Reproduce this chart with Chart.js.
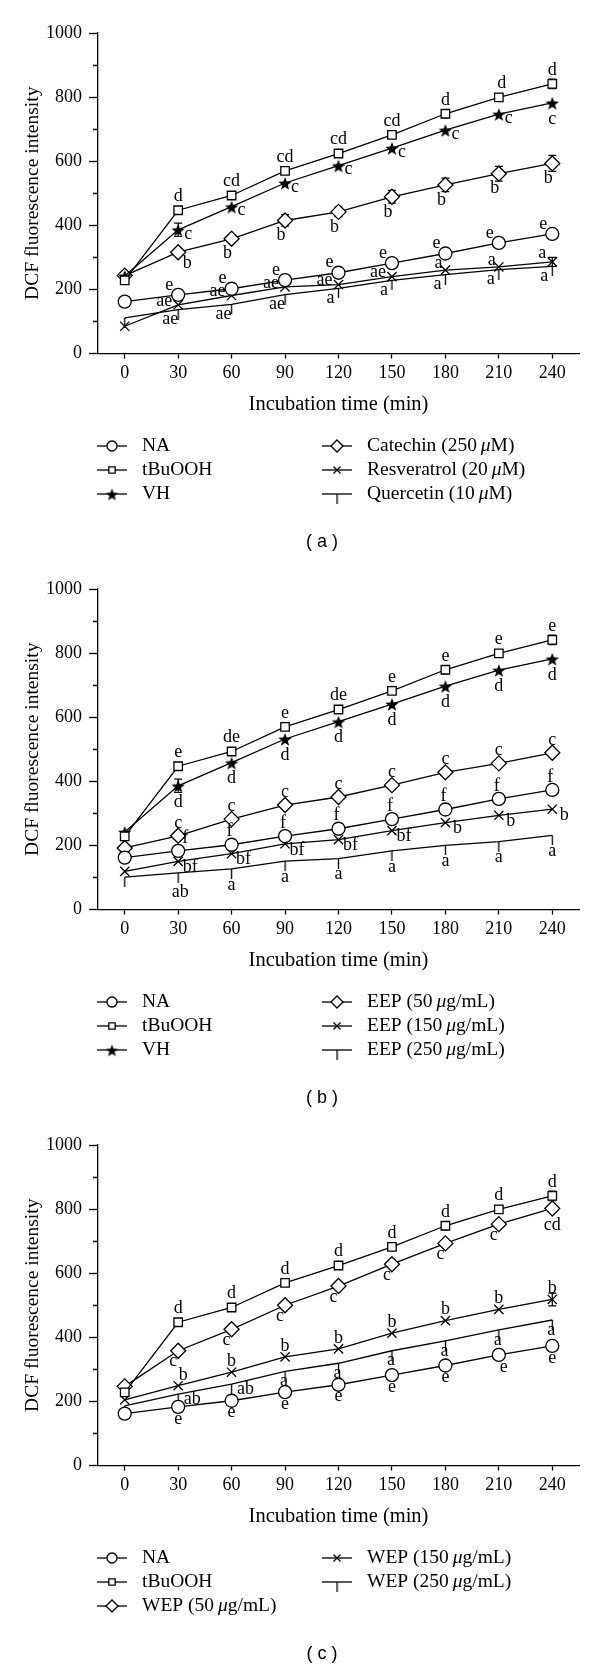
<!DOCTYPE html>
<html lang="en">
<head>
<meta charset="UTF-8">
<title>DCF fluorescence intensity</title>
<script src="https://cdn.jsdelivr.net/npm/chart.js@4.4.0/dist/chart.umd.min.js"></script>
<style>
  html, body { margin: 0; padding: 0; background: #fff; }
  canvas { display: block; }
</style>
</head>
<body>
<canvas id="chartA" width="600" height="556"></canvas>
<canvas id="chartB" width="600" height="556"></canvas>
<canvas id="chartC" width="600" height="555"></canvas>
<script>
// x: incubation time (min), y ticks
const times = [0, 30, 60, 90, 120, 150, 180, 210, 240];
const yTicks = [0, 200, 400, 600, 800, 1000];
const yMinorTicks = [100, 300, 500, 700, 900];

// controls, same in every panel
const naVals  = [162, 183, 202, 229, 252, 282, 312, 345, 373];
const tbuVals = [228, 447, 493, 570, 624, 682, 748, 799, 841];
const tbuErr  = [0, 0, 0, 0, 0, 0, 12, 12, 15];
const vhVals  = [242, 386, 458, 532, 586, 641, 697, 747, 782];
const vhErr   = [0, 21, 0, 0, 0, 0, 0, 0, 0];

// panel (a)
const catechinVals    = [243, 316, 358, 415, 442, 489, 526, 561, 593];
const catechinErr     = [0, 0, 0, 18, 15, 20, 21, 23, 25];
const resveratrolVals = [85, 152, 181, 208, 215, 240, 260, 270, 286];
const resveratrolErr  = [0, 0, 0, 0, 0, 0, 0, 0, 14];
const quercetinVals   = [111, 137, 153, 184, 203, 228, 246, 262, 272];
const naLettersA          = ['', 'e', 'e', 'e', 'e', 'e', 'e', 'e', 'e'];
const tbuLettersA         = ['', 'd', 'cd', 'cd', 'cd', 'cd', 'd', 'd', 'd'];
const vhLettersA          = ['', 'c', 'c', 'c', 'c', 'c', 'c', 'c', 'c'];
const catechinLetters     = ['', 'b', 'b', 'b', 'b', 'b', 'b', 'b', 'b'];
const resveratrolLetters  = ['', 'ae', 'ae', 'ae', 'ae', 'ae', 'a', 'a', 'a'];
const quercetinLetters    = ['', 'ae', 'ae', 'ae', 'a', 'a', 'a', 'a', 'a'];

// panel (b)
const eep50Vals  = [192, 230, 282, 326, 351, 388, 428, 456, 489];
const eep150Vals = [119, 150, 174, 205, 218, 246, 271, 294, 313];
const eep250Vals = [101, 114, 127, 151, 159, 183, 200, 212, 231];
const naLettersB     = ['', 'f', 'f', 'f', 'f', 'f', 'f', 'f', 'f'];
const tbuLettersB    = ['', 'e', 'de', 'e', 'de', 'e', 'e', 'e', 'e'];
const vhLettersB     = ['', 'd', 'd', 'd', 'd', 'd', 'd', 'd', 'd'];
const eep50Letters   = ['', 'c', 'c', 'c', 'c', 'c', 'c', 'c', 'c'];
const eep150Letters  = ['', 'bf', 'bf', 'bf', 'bf', 'bf', 'b', 'b', 'b'];
const eep250Letters  = ['', 'ab', 'a', 'a', 'a', 'a', 'a', 'a', 'a'];

// panel (c)
const wep50Vals  = [247, 358, 425, 500, 560, 628, 693, 753, 802];
const wep150Vals = [205, 249, 291, 339, 364, 413, 452, 487, 518];
const wep150Err  = [0, 0, 0, 0, 0, 0, 0, 0, 20];
const wep250Vals = [186, 223, 254, 294, 319, 358, 389, 423, 454];
const naLettersC     = ['', 'e', 'e', 'e', 'e', 'e', 'e', 'e', 'e'];
const tbuLettersC    = ['', 'd', 'd', 'd', 'd', 'd', 'd', 'd', 'd'];
const wep50Letters   = ['', 'c', 'c', 'c', 'c', 'c', 'c', 'c', 'cd'];
const wep150Letters  = ['', 'b', 'b', 'b', 'b', 'b', 'b', 'b', 'b'];
const wep250Letters  = ['', 'ab', 'ab', 'a', 'a', 'a', 'a', 'a', 'a'];

Chart.defaults.color = '#000';
Chart.defaults.font.family = '"Liberation Serif", "Times New Roman", serif';

// marker images: filled star and the downward tick
function makeStar(r) {
  const c = document.createElement('canvas');
  const s = Math.ceil(r * 2 + 2);
  c.width = c.height = s;
  const g = c.getContext('2d');
  g.beginPath();
  for (let i = 0; i < 10; i++) {
    const rad = i % 2 ? r * 0.42 : r;
    const a = -Math.PI / 2 + i * Math.PI / 5;
    g.lineTo(s / 2 + rad * Math.cos(a), s / 2 + 1 + rad * Math.sin(a));
  }
  g.closePath();
  g.fillStyle = '#000';
  g.fill();
  return c;
}
function makeDrop(len) {
  const c = document.createElement('canvas');
  c.width = 3; c.height = len * 2;
  const g = c.getContext('2d');
  g.strokeStyle = '#000'; g.lineWidth = 1.3;
  g.beginPath(); g.moveTo(1.5, len); g.lineTo(1.5, len * 2); g.stroke();
  return c;
}
const markers = {
  circle:  {style: 'circle', r: 6.5, lr: 5},
  square:  {style: 'rect', r: 6, lr: 4.5},
  star:    {style: makeStar(7), r: 7, lr: 7, legendStyle: makeStar(6.5)},
  diamond: {style: 'rectRot', r: 7.5, lr: 6},
  cross:   {style: 'crossRot', r: 6.5, lr: 5},
  drop:    {style: makeDrop(10), r: 10, lr: 10}
};

const errorBars = {
  id: 'errorBars',
  beforeDatasetsDraw(chart) {
    const {ctx, scales: {x, y}} = chart;
    ctx.save();
    ctx.strokeStyle = '#000';
    ctx.lineWidth = 1.2;
    chart.data.datasets.forEach(ds => {
      if (!ds.err) return;
      ds.data.forEach((p, i) => {
        const e = ds.err[i];
        if (!e) return;
        const px = x.getPixelForValue(p.x);
        const top = y.getPixelForValue(p.y + e), bot = y.getPixelForValue(p.y - e);
        ctx.beginPath();
        ctx.moveTo(px, top); ctx.lineTo(px, bot);
        ctx.moveTo(px - 4, top); ctx.lineTo(px + 4, top);
        ctx.moveTo(px - 4, bot); ctx.lineTo(px + 4, bot);
        ctx.stroke();
      });
    });
    ctx.restore();
  }
};

const sigLetters = {
  id: 'sigLetters',
  afterDatasetsDraw(chart) {
    const {ctx} = chart;
    ctx.save();
    ctx.font = '18px "Liberation Serif"';
    ctx.fillStyle = '#000';
    ctx.textAlign = 'center';
    ctx.textBaseline = 'middle';
    chart.data.datasets.forEach((ds, di) => {
      if (!ds.letters) return;
      chart.getDatasetMeta(di).data.forEach((pt, i) => {
        const txt = ds.letters[i];
        if (!txt) return;
        const off = (ds.offAt && ds.offAt[i]) || ds.off;
        ctx.fillText(txt, pt.x + off[0], pt.y + off[1]);
      });
    });
    ctx.restore();
  }
};

const legendFont = '19.5px "Liberation Serif"';
function drawLabel(ctx, text, x, y) {
  let cx = x;
  text.split('μ').forEach((part, k) => {
    if (k > 0) {
      ctx.font = 'italic ' + legendFont;
      ctx.fillText('μ', cx, y);
      cx += ctx.measureText('μ').width;
    }
    ctx.font = legendFont;
    ctx.fillText(part, cx, y);
    cx += ctx.measureText(part).width;
  });
}

// two-column legend under the x title, then the panel letter
const boxLegend = {
  id: 'boxLegend',
  afterDraw(chart, args, opts) {
    const {ctx} = chart;
    ctx.save();
    ctx.textBaseline = 'middle';
    chart.data.datasets.forEach((ds, i) => {
      const col = i < 3 ? 0 : 1;
      const row = i < 3 ? i : i - 3;
      const x0 = col ? 322 : 97;
      const y0 = 446 + row * 24;
      ctx.strokeStyle = '#000';
      ctx.lineWidth = 1.3;
      ctx.beginPath(); ctx.moveTo(x0, y0); ctx.lineTo(x0 + 30, y0); ctx.stroke();
      ctx.fillStyle = '#fff';
      Chart.helpers.drawPoint(ctx, {
        pointStyle: ds.marker.legendStyle || ds.marker.style,
        radius: ds.marker.lr, rotation: 0, borderWidth: 1.3
      }, x0 + 15, y0);
      ctx.fillStyle = '#000';
      drawLabel(ctx, ds.label, x0 + 45, y0);
    });
    ctx.font = '18px "Liberation Sans", Arial, sans-serif';
    ctx.textAlign = 'center';
    ctx.fillText('( ' + opts.letter + ' )', 322, 542);
    ctx.restore();
  }
};

const allYTicks = yTicks.concat(yMinorTicks).sort((a, b) => a - b);
const isMinor = v => yMinorTicks.includes(v);

function makePanel(id, height, letter, series) {
  const datasets = series.map(s => {
    const m = markers[s.marker];
    return {
      label: s.label,
      data: s.vals.map((v, i) => ({x: times[i], y: v})),
      borderColor: '#000', borderWidth: 1.3, backgroundColor: '#fff',
      pointStyle: m.style, pointRadius: m.r,
      pointBackgroundColor: '#fff', pointBorderColor: '#000', pointBorderWidth: 1.3,
      tension: 0, clip: false,
      marker: m, err: s.err, letters: s.letters, off: s.off, offAt: s.offAt
    };
  });
  const plotBottom = 353.5;
  const xHeight = 530 - plotBottom;
  return new Chart(document.getElementById(id), {
    type: 'line',
    data: {datasets},
    options: {
      responsive: false,
      animation: false,
      devicePixelRatio: 1,
      layout: {padding: {left: 0, right: 21, top: 33, bottom: height - 530}},
      plugins: {
        legend: {display: false},
        tooltip: {enabled: false},
        boxLegend: {letter}
      },
      scales: {
        x: {
          type: 'linear', min: -15, max: 255,
          afterBuildTicks: s => { s.ticks = times.map(v => ({value: v})); },
          afterFit: s => { s.height = xHeight; },
          ticks: {font: {size: 18}, padding: 4, maxRotation: 0, autoSkip: false, callback: v => String(v)},
          grid: {drawOnChartArea: false, tickLength: 5, tickWidth: 1.3, tickColor: '#000'},
          border: {color: '#000', width: 1.3},
          title: {
            display: true, text: 'Incubation time (min)', font: {size: 20.5},
            padding: {top: 0, bottom: xHeight - (405 - plotBottom) - 12.3}
          }
        },
        y: {
          type: 'linear', position: 'left', min: 0, max: 1000,
          afterBuildTicks: s => { s.ticks = allYTicks.map(v => ({value: v})); },
          afterFit: s => { s.width = 98; },
          ticks: {font: {size: 18}, padding: 7, autoSkip: false, callback: v => isMinor(v) ? '' : String(v)},
          grid: {
            drawOnChartArea: false, tickLength: 9, tickWidth: 1.3, tickColor: '#000',
            // minor ticks: only the inner 5px of the tick is inked
            tickBorderDash: c => (c.tick && isMinor(c.tick.value)) ? [0, 4, 5, 100] : []
          },
          border: {color: '#000', width: 1.3},
          title: {
            display: true, text: 'DCF fluorescence intensity', font: {size: 19.5},
            padding: {top: 21, bottom: 0}
          }
        }
      }
    },
    plugins: [errorBars, sigLetters, boxLegend]
  });
}

makePanel('chartA', 556, 'a', [
  {label: 'NA', vals: naVals, marker: 'circle', letters: naLettersA, off: [-9, -10]},
  {label: 'tBuOOH', vals: tbuVals, err: tbuErr, marker: 'square', letters: tbuLettersA, off: [0, -14], offAt: {7: [3, -14]}},
  {label: 'VH', vals: vhVals, err: vhErr, marker: 'star', letters: vhLettersA, off: [10, 4], offAt: {8: [0, 16]}},
  {label: 'Catechin (250\u2009μM)', vals: catechinVals, err: catechinErr, marker: 'diamond', letters: catechinLetters, off: [-4, 15], offAt: {1: [9, 11]}},
  {label: 'Resveratrol (20\u2009μM)', vals: resveratrolVals, err: resveratrolErr, marker: 'cross', letters: resveratrolLetters, off: [-14, -4], offAt: {6: [-7, -7], 7: [-7, -7], 8: [-10, -9]}},
  {label: 'Quercetin (10\u2009μM)', vals: quercetinVals, marker: 'drop', letters: quercetinLetters, off: [-8, 10]}
]);

makePanel('chartB', 556, 'b', [
  {label: 'NA', vals: naVals, marker: 'circle', letters: naLettersB, off: [-2, -13], offAt: {1: [7, -13]}},
  {label: 'tBuOOH', vals: tbuVals, err: tbuErr, marker: 'square', letters: tbuLettersB, off: [0, -14]},
  {label: 'VH', vals: vhVals, err: vhErr, marker: 'star', letters: vhLettersB, off: [0, 16]},
  {label: 'EEP (50\u2009μg/mL)', vals: eep50Vals, marker: 'diamond', letters: eep50Letters, off: [0, -13]},
  {label: 'EEP (150\u2009μg/mL)', vals: eep150Vals, marker: 'cross', letters: eep150Letters, off: [12, 6]},
  {label: 'EEP (250\u2009μg/mL)', vals: eep250Vals, marker: 'drop', letters: eep250Letters, off: [0, 16], offAt: {1: [2, 19]}}
]);

makePanel('chartC', 555, 'c', [
  {label: 'NA', vals: naVals, marker: 'circle', letters: naLettersC, off: [0, 12], offAt: {7: [5, 12]}},
  {label: 'tBuOOH', vals: tbuVals, err: tbuErr, marker: 'square', letters: tbuLettersC, off: [0, -14]},
  {label: 'WEP (50\u2009μg/mL)', vals: wep50Vals, marker: 'diamond', letters: wep50Letters, off: [-5, 11], offAt: {8: [0, 17]}},
  {label: 'WEP (150\u2009μg/mL)', vals: wep150Vals, err: wep150Err, marker: 'cross', letters: wep150Letters, off: [0, -11], offAt: {1: [5, -10]}},
  {label: 'WEP (250\u2009μg/mL)', vals: wep250Vals, marker: 'drop', letters: wep250Letters, off: [-1, 10], offAt: {1: [14, 5], 2: [14, 5]}}
]);
</script>
</body>
</html>
